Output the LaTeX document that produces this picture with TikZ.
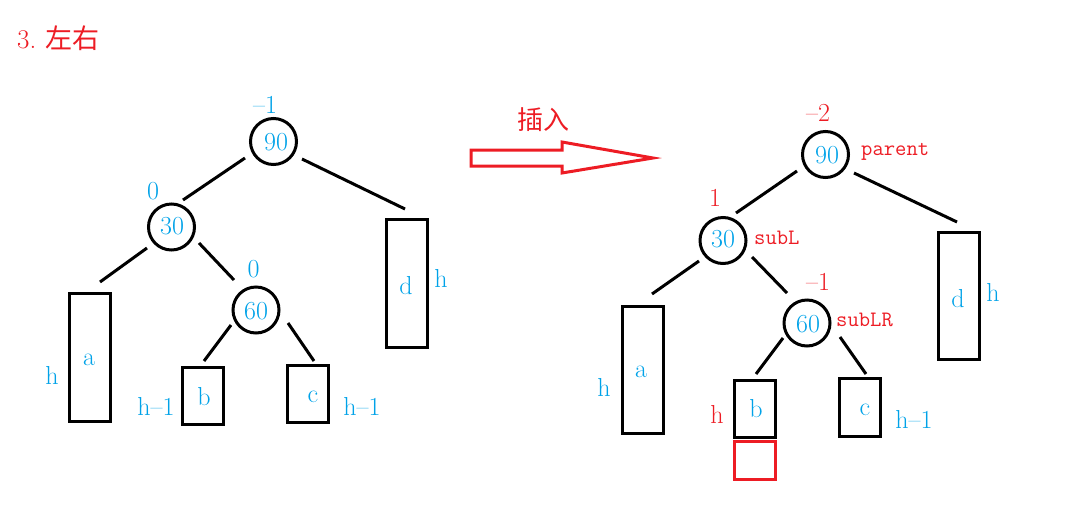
\documentclass[tikz,border=0pt]{standalone}
\usepackage{fontspec}
\newfontfamily\cjk{Noto Sans CJK SC}
\definecolor{pblue}{RGB}{0,162,232}
\definecolor{pred}{RGB}{237,28,36}
\tikzset{
  circ/.style={draw=black, line width=3pt, circle, minimum size=46pt, inner sep=0pt},
  box/.style={draw=black, line width=3pt, rectangle, inner sep=0pt},
  redbox/.style={draw=pred, line width=3pt, rectangle, inner sep=0pt},
  edge/.style={draw=black, line width=3pt},
  bt/.style={text=pblue, font=\fontsize{26}{28}\selectfont, inner sep=0pt},
  rt/.style={text=pred, font=\fontsize{26}{28}\selectfont, inner sep=0pt},
  tag/.style={text=pred, font=\fontsize{22}{24}\selectfont\ttfamily, inner sep=0pt, anchor=west},
}
\begin{document}
\begin{tikzpicture}[x=1pt,y=-1pt]
\useasboundingbox (0,0) rectangle (1083,509);
% title
\node[text=pred, font=\fontsize{27}{29}\selectfont, inner sep=0pt, anchor=west] (title) at (17,38) {3.\hspace{9pt}{\cjk 左右}};

% ---------- left tree ----------
\node[circ] (l90) at (273.5,141.5) {};
\node[circ] (l30) at (171.5,227) {};
\node[circ] (l60) at (256,310) {};
\node[box, minimum width=41pt, minimum height=128pt] (la) at (90,357) {};
\node[box, minimum width=41pt, minimum height=57pt] (lb) at (202.5,396) {};
\node[box, minimum width=41pt, minimum height=57pt] (lc) at (307.5,394) {};
\node[box, minimum width=41pt, minimum height=128pt] (ld) at (406.5,283) {};

\node[bt] (l90t) at (276,142) {90};
\node[bt] (l30t) at (172,226) {30};
\node[bt] (l60t) at (256,311) {60};
\node[bt] (l90b) at (265,105) {--1};
\node[bt] (l30b) at (153,191) {0};
\node[bt] (l60b) at (253.5,269.5) {0};
\node[bt] (lat) at (89,360) {a};
\node[bt] (lah) at (52,375) {h};
\node[bt] (lbt) at (204,397) {b};
\node[bt] (lbh) at (156,406) {h--1};
\node[bt] (lct) at (313,397) {c};
\node[bt] (lch) at (362,406) {h--1};
\node[bt] (ldt) at (406,286) {d};
\node[bt] (ldh) at (441,278) {h};

\coordinate (e1s) at (245,158); \coordinate (e1e) at (183,200);
\coordinate (e2s) at (302,159); \coordinate (e2e) at (405,209);
\coordinate (e3s) at (147,248); \coordinate (e3e) at (100,282);
\coordinate (e4s) at (199,243); \coordinate (e4e) at (234,280);
\coordinate (e5s) at (231,325); \coordinate (e5e) at (204,361);
\coordinate (e6s) at (288,323); \coordinate (e6e) at (314,361);
\draw[edge] (e1s) -- (e1e);
\draw[edge] (e2s) -- (e2e);
\draw[edge] (e3s) -- (e3e);
\draw[edge] (e4s) -- (e4e);
\draw[edge] (e5s) -- (e5e);
\draw[edge] (e6s) -- (e6e);

% ---------- arrow ----------
\node[rt, font=\fontsize{26}{28}\selectfont\cjk] (ins) at (543,120) {插入};
\draw[draw=pred, line width=3pt, line join=miter] (471,150) -- (562,150) -- (562,142) -- (653,158) -- (562,173) -- (562,166) -- (471,166) -- cycle;

% ---------- right tree ----------
\node[circ] (r90) at (825.5,154.5) {};
\node[circ] (r30) at (723,240.5) {};
\node[circ] (r60) at (807,323) {};
\node[box, minimum width=41pt, minimum height=127pt] (ra) at (642.5,369.5) {};
\node[box, minimum width=41pt, minimum height=57pt] (rb) at (754.5,408.5) {};
\node[redbox, minimum width=41pt, minimum height=38pt] (rnew) at (754.5,460) {};
\node[box, minimum width=41pt, minimum height=58pt] (rc) at (859.5,407) {};
\node[box, minimum width=41pt, minimum height=127pt] (rd) at (958.5,295.5) {};

\node[bt] (r90t) at (827,155) {90};
\node[bt] (r30t) at (723,239) {30};
\node[bt] (r60t) at (808,324) {60};
\node[rt] (r90b) at (818,113) {--2};
\node[rt] (r30b) at (715,198) {1};
\node[rt] (r60b) at (818,282) {--1};
\node[tag] (rparent) at (861,152) {parent};
\node[tag] (rsubl) at (754,238) {subL};
\node[tag] (rsublr) at (836,320) {subLR};
\node[bt] (rat) at (641,372) {a};
\node[bt] (rah) at (604,387) {h};
\node[bt] (rbt) at (756,409) {b};
\node[rt] (rbh) at (717,414) {h};
\node[bt] (rct) at (865,410) {c};
\node[bt] (rch) at (914,419) {h--1};
\node[bt] (rdt) at (958,299) {d};
\node[bt] (rdh) at (993,292) {h};

\coordinate (f1s) at (797,171); \coordinate (f1e) at (736,213);
\coordinate (f2s) at (854,173); \coordinate (f2e) at (957,222);
\coordinate (f3s) at (699,261); \coordinate (f3e) at (652,294);
\coordinate (f4s) at (752,257); \coordinate (f4e) at (787,293);
\coordinate (f5s) at (783,338); \coordinate (f5e) at (756,374);
\coordinate (f6s) at (840,337); \coordinate (f6e) at (866,374);
\draw[edge] (f1s) -- (f1e);
\draw[edge] (f2s) -- (f2e);
\draw[edge] (f3s) -- (f3e);
\draw[edge] (f4s) -- (f4e);
\draw[edge] (f5s) -- (f5e);
\draw[edge] (f6s) -- (f6e);
\end{tikzpicture}
\end{document}
